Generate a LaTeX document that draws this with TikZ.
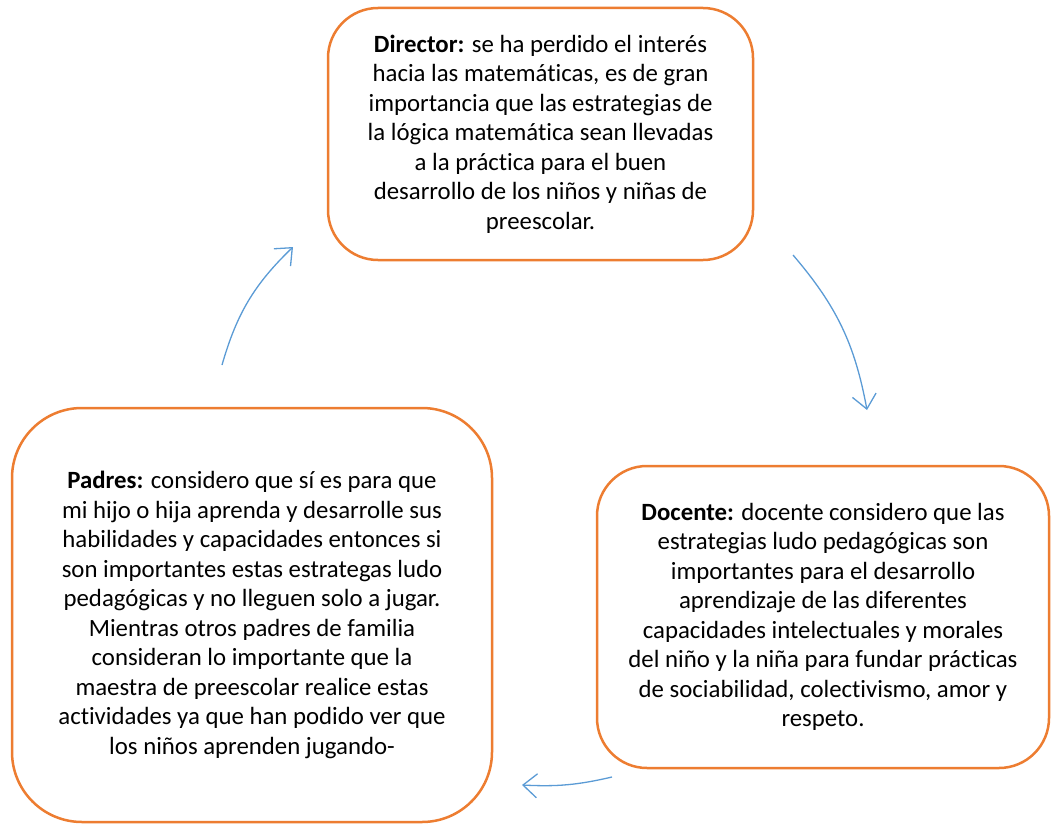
\documentclass[tikz,border=0pt]{standalone}
\usepackage{fontspec}
\setmainfont[Ligatures=NoCommon,RawFeature={-liga}]{Carlito}
\usetikzlibrary{arrows.meta}
\definecolor{boxorange}{HTML}{ED7D31}
\definecolor{arrowblue}{HTML}{5B9BD5}
\tikzset{
  box/.style={draw=boxorange, line width=2.5pt, fill=white, inner sep=0pt, align=center,
    font=\fontsize{24.8}{29.5}\selectfont, text=black},
  flow/.style={draw=arrowblue, line width=1.3pt, -{Straight Barb[length=14pt,width=24pt,line width=1.3pt]}}
}
\begin{document}
\begin{tikzpicture}[x=1pt,y=-1pt]
\useasboundingbox (0,0) rectangle (1051,824);
\node[box, rounded corners=50pt, minimum width=425pt, minimum height=252pt] (dir) at (540.5,134)
 {\textbf{Director:} se ha perdido el interés\\hacia las matemáticas, es de gran\\importancia que las estrategias de\\la lógica matemática sean llevadas\\a la práctica para el buen\\desarrollo de los niños y niñas de\\preescolar.};
\node[box, rounded corners=70pt, minimum width=480pt, minimum height=414pt] (pad) at (252,615)
 {\textbf{Padres:} considero que sí es para que\\mi hijo o hija aprenda y desarrolle sus\\habilidades y capacidades entonces si\\son importantes estas estrategas ludo\\pedagógicas y no lleguen solo a jugar.\\Mientras otros padres de familia\\consideran lo importante que la\\maestra de preescolar realice estas\\actividades ya que han podido ver que\\los niños aprenden jugando-};
\node[box, rounded corners=50pt, minimum width=452pt, minimum height=302pt] (doc) at (823,617)
 {\textbf{Docente:} docente considero que las\\estrategias ludo pedagógicas son\\importantes para el desarrollo\\aprendizaje de las diferentes\\capacidades intelectuales y morales\\del niño y la niña para fundar prácticas\\de sociabilidad, colectivismo, amor y\\respeto.};
\coordinate (a1s) at (222,365);
\coordinate (a1e) at (293,247);
\coordinate (a2s) at (793,255);
\coordinate (a2e) at (867,410);
\coordinate (a3s) at (612,777);
\coordinate (a3e) at (522,785);
\draw[flow] (a1s) to[bend left=15] (a1e);
\draw[flow] (a2s) to[bend left=15] (a2e);
\draw[flow] (a3s) to[bend left=8] (a3e);
\end{tikzpicture}
\end{document}
